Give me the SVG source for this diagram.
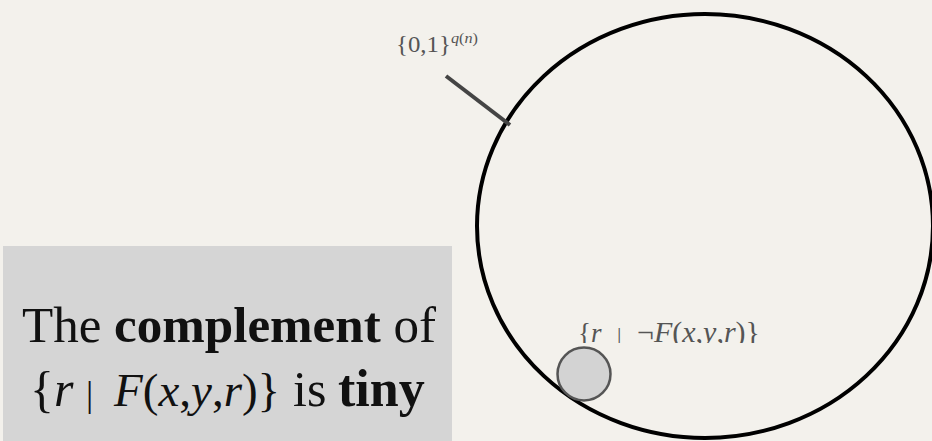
<svg xmlns="http://www.w3.org/2000/svg" width="932" height="441" viewBox="0 0 932 441">
  <style>
    .serif { font-family: "Liberation Serif", "DejaVu Serif", serif; }
    .it { font-style: italic; }
    .b { font-weight: bold; }
    .small { fill: #555555; }
    .big { fill: #111111; font-size: 50px; }
    .lab { font-size: 30px; }
  </style>
  <defs>
    <clipPath id="labclip">
      <rect x="560" y="300" width="220" height="43"/>
    </clipPath>
  </defs>
  <rect x="0" y="0" width="932" height="441" fill="#f3f1ec"/>

  <g id="universe">
    <ellipse cx="705" cy="226" rx="228" ry="212" fill="none" stroke="#000000" stroke-width="4"/>
  </g>

  <g id="bad-set">
    <circle cx="584" cy="374" r="26.5" fill="#d3d3d3" stroke="#555555" stroke-width="2.5"/>
  </g>

  <g id="connectors">
    <line x1="446" y1="76" x2="510" y2="125" stroke="#444444" stroke-width="4"/>
  </g>

  <g id="universe-label">
    <text class="serif small" x="396" y="52" font-size="23" textLength="82" lengthAdjust="spacingAndGlyphs">{0,1}<tspan font-size="15" dy="-9" class="it">q</tspan><tspan font-size="15">(</tspan><tspan font-size="15" class="it">n</tspan><tspan font-size="15">)</tspan></text>
  </g>

  <g id="bad-set-label" clip-path="url(#labclip)">
    <text class="serif small" y="342" font-size="27"><tspan x="578">{</tspan><tspan class="it">r</tspan><tspan x="617" font-size="22">|</tspan><tspan x="637" class="lab">¬</tspan><tspan class="it lab">F</tspan><tspan class="lab">(</tspan><tspan class="it lab">x</tspan><tspan class="lab">,</tspan><tspan class="it lab">y</tspan><tspan class="lab">,</tspan><tspan class="it lab">r</tspan><tspan class="lab">)}</tspan></text>
  </g>

  <g id="caption">
    <rect x="3" y="246" width="449" height="195" fill="#d5d5d5"/>
    <text class="serif big" x="22" y="342" textLength="414" lengthAdjust="spacingAndGlyphs">The <tspan class="b">complement</tspan> of</text>
    <text class="serif big" y="406"><tspan x="30">{</tspan><tspan class="it">r</tspan><tspan x="86" font-size="36">|</tspan><tspan x="114" class="it" font-size="47">F</tspan><tspan font-size="47">(</tspan><tspan class="it" font-size="47">x</tspan><tspan font-size="47">,</tspan><tspan class="it" font-size="47">y</tspan><tspan font-size="47">,</tspan><tspan class="it" font-size="47">r</tspan><tspan font-size="47">)}</tspan><tspan x="293">is</tspan><tspan x="338" class="b" font-size="52">tiny</tspan></text>
  </g>
</svg>
